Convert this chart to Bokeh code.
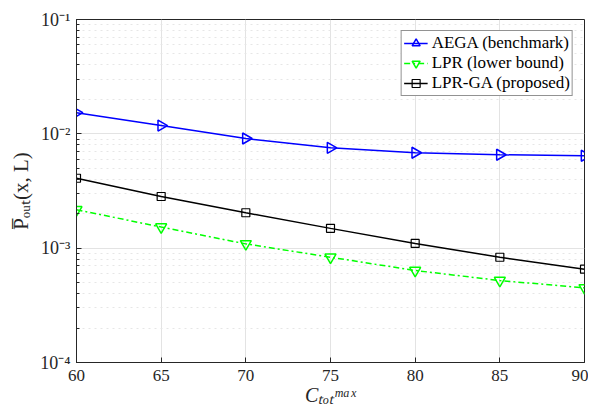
import math
from bokeh.plotting import figure
from bokeh.models import (CustomJSTickFormatter, FixedTicker,
                          Legend, LegendItem, ColumnDataSource)
from bokeh.embed import file_html
from bokeh.resources import INLINE

# ---- data ----
c_max = [60, 65, 70, 75, 80, 85, 90]
aega = [0.0153, 0.0118, 0.0091, 0.00755, 0.00683, 0.00656, 0.00643]
lpr = [0.00217, 0.00153, 0.00109, 0.000833, 0.000638, 0.000521, 0.000450]
lpr_ga = [0.00409, 0.00283, 0.00204, 0.00149, 0.00110, 0.000833, 0.000655]
x_ticks = [60, 65, 70, 75, 80, 85, 90]
series_names = ["AEGA (benchmark)", "LPR (lower bound)", "LPR-GA (proposed)"]
x_title = "C\u209c\u2092\u209c\u1d50\u1d43\u02e3"
y_title = "P\u0305\u2092\u1d64\u209c(x, L)"

FONT = "Liberation Serif"
AX = "#262626"

p = figure(width=588, height=413, y_axis_type="log", x_range=(60, 90), y_range=(1e-4, 1e-1),
           output_backend="svg", toolbar_location=None,
           min_border_left=76, min_border_right=4, min_border_top=19, min_border_bottom=51)
p.outline_line_color = AX
p.background_fill_color = "white"
p.border_fill_color = "white"

sup = """const m={'-':'\u207b','0':'\u2070','1':'\u00b9','2':'\u00b2','3':'\u00b3','4':'\u2074','5':'\u2075','6':'\u2076','7':'\u2077','8':'\u2078','9':'\u2079'};
const e=Math.round(Math.log10(tick));
return '10'+String(e).split('').map(c=>m[c]).join('');"""

def style_axis(ax):
    ax.axis_line_color = AX
    ax.major_tick_line_color = AX
    ax.minor_tick_line_color = AX
    ax.major_tick_in = 5
    ax.major_tick_out = 0
    ax.minor_tick_in = 3
    ax.minor_tick_out = 0
    ax.major_label_text_font = FONT
    ax.major_label_text_font_size = "17px"
    ax.major_label_text_color = AX
    ax.axis_label_text_font = FONT
    ax.axis_label_text_color = AX
    ax.axis_label_text_font_size = "20px"

xa = p.xaxis[0]
xa.ticker = FixedTicker(ticks=x_ticks, minor_ticks=[])
style_axis(xa)
xa.major_label_standoff = 7
xa.axis_label = x_title
xa.axis_label_text_font_style = "italic"
xa.axis_label_standoff = 0

ya = p.yaxis[0]
ya.formatter = CustomJSTickFormatter(code=sup)
style_axis(ya)
ya.major_label_text_font_size = "18px"
ya.major_label_standoff = 6
ya.axis_label = y_title
ya.axis_label_text_font_size = "21px"
ya.axis_label_text_font_style = "normal"
ya.axis_label_standoff = 4

p.xgrid.ticker = FixedTicker(ticks=x_ticks, minor_ticks=[])
for g in (p.xgrid, p.ygrid):
    g.grid_line_color = "#e3e3e3"
    g.grid_line_width = 1
p.ygrid.minor_grid_line_color = "#e6e6e6"
p.ygrid.minor_grid_line_dash = "dotted"

src = ColumnDataSource(dict(x=c_max, a=aega, l=lpr, g=lpr_ga))

l1 = p.line("x", "a", source=src, line_color="#0000ff", line_width=1.5)
m1 = p.scatter("x", "a", source=src, marker="triangle", angle=-math.pi / 2, size=11,
               line_color="#0000ff", fill_color=None, line_width=1.5)
l2 = p.line("x", "l", source=src, line_color="#00ff00", line_width=1.5, line_dash="6 3 2 3")
m2 = p.scatter("x", "l", source=src, marker="inverted_triangle", size=11,
               line_color="#00ff00", fill_color=None, line_width=1.5)
l3 = p.line("x", "g", source=src, line_color="#000000", line_width=1.5)
m3 = p.scatter("x", "g", source=src, marker="square", size=8,
               line_color="#000000", fill_color=None, line_width=1.2)

legend = Legend(items=[LegendItem(label=series_names[0], renderers=[l1, m1]),
                       LegendItem(label=series_names[1], renderers=[l2, m2]),
                       LegendItem(label=series_names[2], renderers=[l3, m3])],
                location="top_right")
legend.label_text_font = FONT
legend.label_text_font_size = "17px"
legend.label_text_color = "#000000"
legend.border_line_color = AX
legend.border_line_width = 1
legend.padding = 2
legend.spacing = 0
legend.margin = 11
legend.glyph_width = 24
legend.glyph_height = 20
legend.label_standoff = 4
legend.label_height = 20
legend.background_fill_alpha = 1
p.add_layout(legend)

open("out.html", "w").write(file_html(p, INLINE))
